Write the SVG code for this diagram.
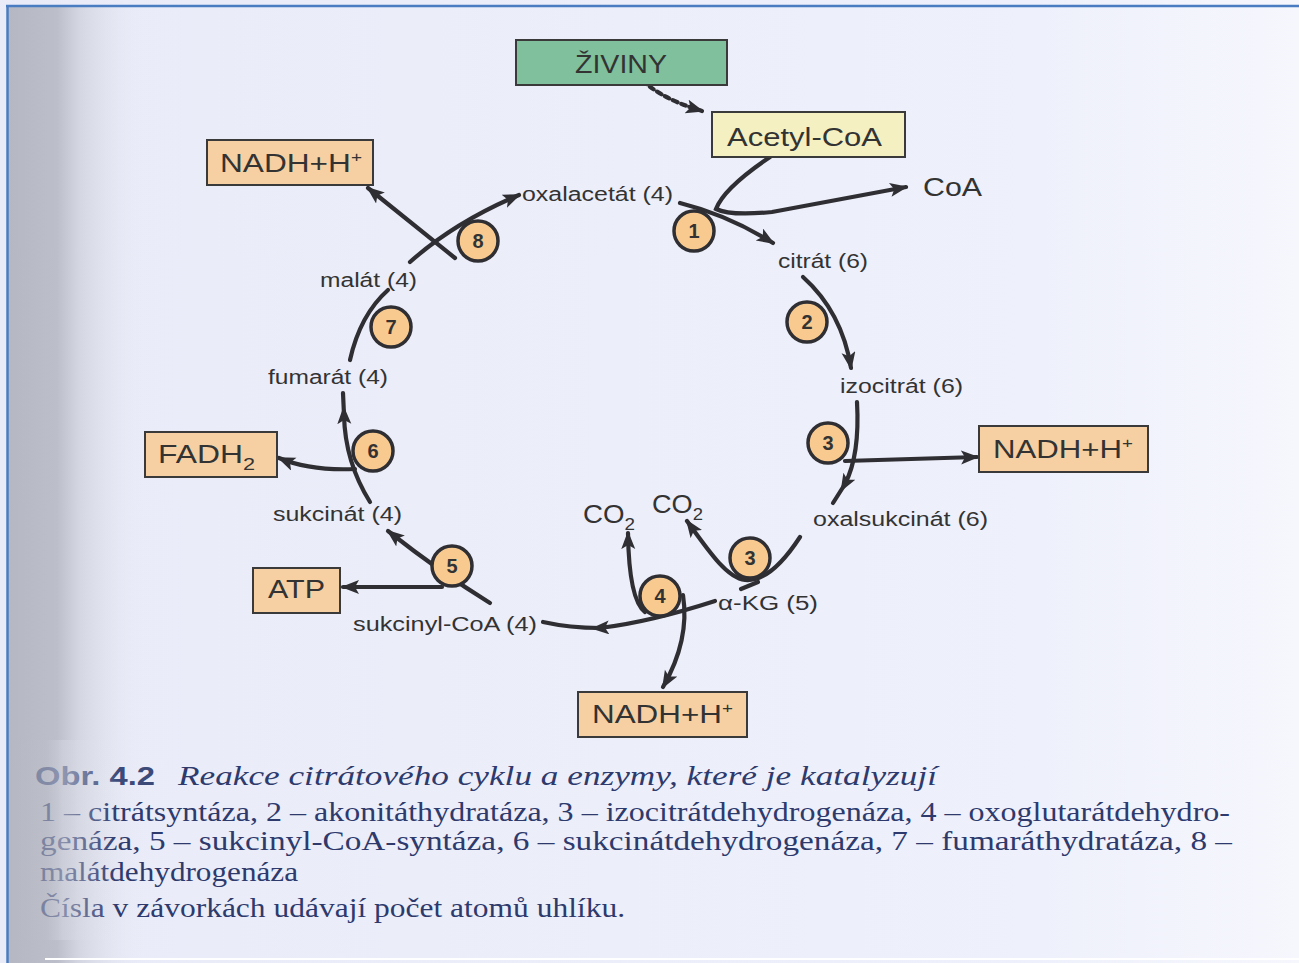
<svg xmlns="http://www.w3.org/2000/svg" width="1299" height="963" viewBox="0 0 1299 963">
<defs>
<linearGradient id="page" x1="0" y1="0" x2="1" y2="0">
<stop offset="0" stop-color="#e9ebf8"/>
<stop offset="0.8" stop-color="#eef0fb"/>
<stop offset="1" stop-color="#f6f7fd"/>
</linearGradient>
<linearGradient id="shade" x1="0" y1="0" x2="1" y2="0">
<stop offset="0" stop-color="#b5b8c3"/>
<stop offset="0.35" stop-color="#bcbfca"/>
<stop offset="0.5" stop-color="#d3d5e0"/>
<stop offset="1" stop-color="#e9ebf8" stop-opacity="0"/>
</linearGradient>
<marker id="ah" markerUnits="userSpaceOnUse" markerWidth="20" markerHeight="16" refX="16" refY="7" orient="auto">
<path d="M0,0 L18,7 L0,14 L4,7 Z" fill="#2f2f33"/>
</marker>
<marker id="am" markerUnits="userSpaceOnUse" markerWidth="20" markerHeight="16" refX="9" refY="7" orient="auto">
<path d="M0,0 L18,7 L0,14 L4,7 Z" fill="#2f2f33"/>
</marker>
</defs>
<style>
.ln{fill:none;stroke:#2f2f33;stroke-width:4.2;stroke-linecap:round}
.box{stroke:#3a3a3a;stroke-width:2}
.peach{fill:#f6d0a2}
.bt{font-family:"Liberation Sans",Arial,sans-serif;font-size:25px;fill:#333;}
.lb{font-family:"Liberation Sans",Arial,sans-serif;font-size:20px;fill:#333;}
.cn circle{fill:#f8ca90;stroke:#2f2f33;stroke-width:3.5}
.cn text{font-family:"Liberation Sans",Arial,sans-serif;font-size:20px;font-weight:bold;fill:#333;text-anchor:middle}
.cap{font-family:"Liberation Serif","Times New Roman",serif;font-size:27px;fill:#2e3a6c}
</style>
<rect x="0" y="0" width="1299" height="963" fill="url(#page)"/>
<rect x="8" y="6" width="140" height="957" fill="url(#shade)"/>

<g id="connectors">
<path class="ln" d="M637,74 Q655,97 702,111" stroke-dasharray="5 4" stroke-linecap="butt" marker-end="url(#ah)"/>
<path class="ln" d="M680,203 Q728,215 773,243" marker-end="url(#ah)"/>
<path class="ln" d="M770,157 Q724,188 716,209 Q730,216 772,212 L906,187" marker-end="url(#ah)"/>
<path class="ln" d="M803,277 Q842,312 851,368" marker-end="url(#ah)"/>
<path class="ln" d="M857,402 Q860,455 845,484 L833,503" marker-mid="url(#am)"/>
<path class="ln" d="M845,461 L977,457" marker-end="url(#ah)"/>
<path class="ln" d="M800,537 C785,560 765,582 745,580 C728,578 712,556 687,521" marker-end="url(#ah)"/>
<path class="ln" d="M758,582 L741,589"/>
<path class="ln" d="M715,601 Q650,622 600,628 Q570,628 543,622" marker-mid="url(#am)"/>
<path class="ln" d="M645,612 Q629,600 628,533" marker-end="url(#ah)"/>
<path class="ln" d="M683,595 Q690,640 663,687" marker-end="url(#ah)"/>
<path class="ln" d="M490,603 Q440,572 388,531" marker-end="url(#ah)"/>
<path class="ln" d="M442,587 L343,587" marker-end="url(#ah)"/>
<path class="ln" d="M370,502 Q345,462 344,415 L343,393" marker-mid="url(#am)"/>
<path class="ln" d="M355,469 Q310,471 279,458" marker-end="url(#ah)"/>
<path class="ln" d="M350,360 Q360,315 388,290"/>
<path class="ln" d="M410,262 Q455,222 519,195" marker-end="url(#ah)"/>
<path class="ln" d="M455,258 L368,188" marker-end="url(#ah)"/>
</g>

<g id="ziviny"><rect class="box" x="516" y="40" width="211" height="45" fill="#80c09d"/><text class="bt" x="621" y="73" text-anchor="middle" textLength="92" lengthAdjust="spacingAndGlyphs">ŽIVINY</text></g>
<g id="acetylcoa"><rect class="box" x="712" y="112" width="193" height="45" fill="#f5f0c2"/><text class="bt" x="727" y="146" textLength="155" lengthAdjust="spacingAndGlyphs">Acetyl-CoA</text></g>
<g id="coa"><text class="bt" x="923" y="196" textLength="59" lengthAdjust="spacingAndGlyphs">CoA</text></g>
<g id="nadh1"><rect class="box peach" x="207" y="140" width="166" height="45"/><text class="bt" x="220" y="172" textLength="142" lengthAdjust="spacingAndGlyphs">NADH+H<tspan font-size="15" dy="-10">+</tspan></text></g>
<g id="nadh3"><rect class="box peach" x="979" y="426" width="169" height="46"/><text class="bt" x="993" y="458" textLength="140" lengthAdjust="spacingAndGlyphs">NADH+H<tspan font-size="15" dy="-10">+</tspan></text></g>
<g id="nadh4"><rect class="box peach" x="578" y="692" width="169" height="45"/><text class="bt" x="592" y="723" textLength="141" lengthAdjust="spacingAndGlyphs">NADH+H<tspan font-size="15" dy="-10">+</tspan></text></g>
<g id="fadh2"><rect class="box peach" x="145" y="432" width="132" height="45"/><text class="bt" x="158" y="463" textLength="97" lengthAdjust="spacingAndGlyphs">FADH<tspan font-size="17" dy="7">2</tspan></text></g>
<g id="atp"><rect class="box peach" x="253" y="568" width="87" height="45"/><text class="bt" x="268" y="598" textLength="57" lengthAdjust="spacingAndGlyphs">ATP</text></g>
<g id="co2a"><text class="bt" x="583" y="523" textLength="52" lengthAdjust="spacingAndGlyphs">CO<tspan font-size="17" dy="7">2</tspan></text></g>
<g id="co2b"><text class="bt" x="652" y="513" textLength="51" lengthAdjust="spacingAndGlyphs">CO<tspan font-size="17" dy="7">2</tspan></text></g>

<g id="oxalacetat"><text class="lb" x="522" y="201" textLength="151" lengthAdjust="spacingAndGlyphs">oxalacetát (4)</text></g>
<g id="citrat"><text class="lb" x="778" y="268" textLength="90" lengthAdjust="spacingAndGlyphs">citrát (6)</text></g>
<g id="izocitrat"><text class="lb" x="840" y="393" textLength="123" lengthAdjust="spacingAndGlyphs">izocitrát (6)</text></g>
<g id="oxalsukcinat"><text class="lb" x="813" y="526" textLength="175" lengthAdjust="spacingAndGlyphs">oxalsukcinát (6)</text></g>
<g id="akg"><text class="lb" x="718" y="610" textLength="100" lengthAdjust="spacingAndGlyphs">α-KG (5)</text></g>
<g id="sukcinylcoa"><text class="lb" x="353" y="631" textLength="184" lengthAdjust="spacingAndGlyphs">sukcinyl-CoA (4)</text></g>
<g id="sukcinat"><text class="lb" x="273" y="521" textLength="129" lengthAdjust="spacingAndGlyphs">sukcinát (4)</text></g>
<g id="fumarat"><text class="lb" x="268" y="384" textLength="120" lengthAdjust="spacingAndGlyphs">fumarát (4)</text></g>
<g id="malat"><text class="lb" x="320" y="287" textLength="97" lengthAdjust="spacingAndGlyphs">malát (4)</text></g>

<g id="enz1" class="cn"><circle cx="694" cy="231" r="20"/><text x="694" y="238">1</text></g>
<g id="enz2" class="cn"><circle cx="807" cy="322" r="20"/><text x="807" y="329">2</text></g>
<g id="enz3a" class="cn"><circle cx="828" cy="443" r="20"/><text x="828" y="450">3</text></g>
<g id="enz3b" class="cn"><circle cx="750" cy="558" r="20"/><text x="750" y="565">3</text></g>
<g id="enz4" class="cn"><circle cx="660" cy="596" r="20"/><text x="660" y="603">4</text></g>
<g id="enz5" class="cn"><circle cx="452" cy="566" r="20"/><text x="452" y="573">5</text></g>
<g id="enz6" class="cn"><circle cx="373" cy="451" r="20"/><text x="373" y="458">6</text></g>
<g id="enz7" class="cn"><circle cx="391" cy="327" r="20"/><text x="391" y="334">7</text></g>
<g id="enz8" class="cn"><circle cx="478" cy="241" r="20"/><text x="478" y="248">8</text></g>

<g id="caption">
<text x="35" y="785" font-family="Liberation Sans,Arial,sans-serif" font-size="25" font-weight="bold" fill="#3b4a78" textLength="120" lengthAdjust="spacingAndGlyphs">Obr. 4.2</text>
<text class="cap" x="178" y="785" font-style="italic" textLength="759" lengthAdjust="spacingAndGlyphs">Reakce citrátového cyklu a enzymy, které je katalyzují</text>
<text class="cap" x="40" y="821" textLength="1190" lengthAdjust="spacingAndGlyphs">1 – citrátsyntáza, 2 – akonitáthydratáza, 3 – izocitrátdehydrogenáza, 4 – oxoglutarátdehydro-</text>
<text class="cap" x="40" y="850" textLength="1192" lengthAdjust="spacingAndGlyphs">genáza, 5 – sukcinyl-CoA-syntáza, 6 – sukcinátdehydrogenáza, 7 – fumaráthydratáza, 8 –</text>
<text class="cap" x="40" y="881" textLength="258" lengthAdjust="spacingAndGlyphs">malátdehydrogenáza</text>
<text class="cap" x="40" y="917" textLength="585" lengthAdjust="spacingAndGlyphs">Čísla v závorkách udávají počet atomů uhlíku.</text>
</g>
<rect x="8" y="740" width="110" height="200" fill="url(#shade)" opacity="0.55"/>
<line x1="45" y1="959" x2="1299" y2="959" stroke="#ffffff" stroke-width="2"/>
<line x1="6" y1="6" x2="1299" y2="6" stroke="#4a7cc2" stroke-width="2.5"/>
<line x1="7.5" y1="5" x2="7.5" y2="963" stroke="#4a7cc2" stroke-width="2.5"/>
</svg>
